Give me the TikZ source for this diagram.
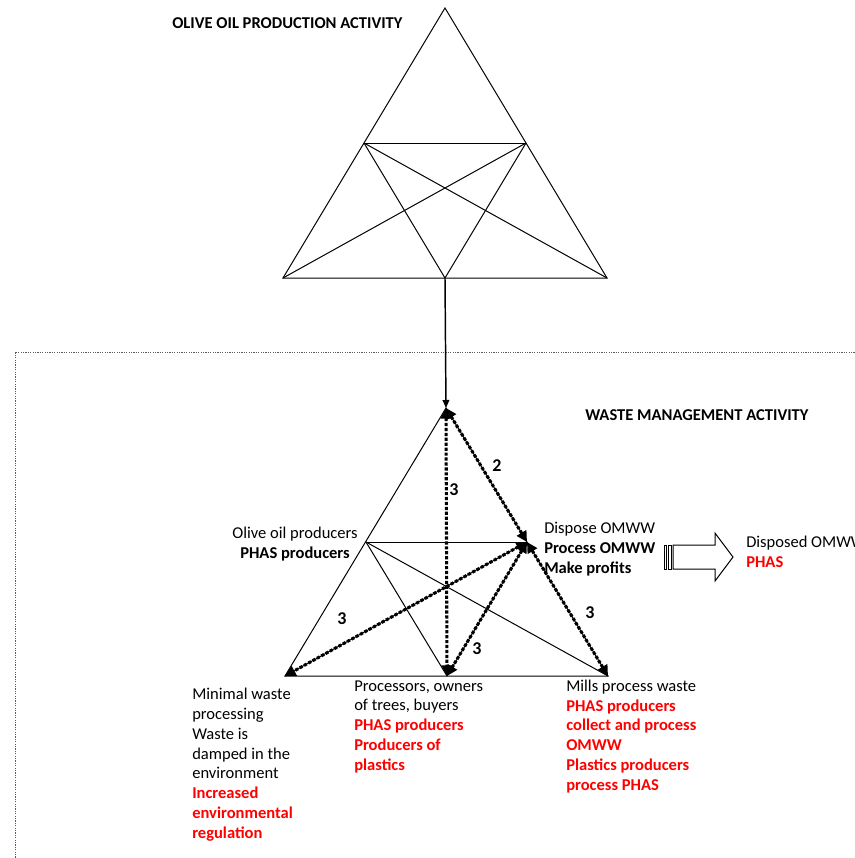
\documentclass[tikz,border=0pt]{standalone}
\usepackage{fontspec}
\setmainfont{Carlito}
\usetikzlibrary{arrows.meta}
\definecolor{accent}{RGB}{255,0,0}
\definecolor{framegray}{RGB}{90,90,90}
\newcommand{\hl}[1]{\textcolor{accent}{\textbf{#1}}}
\begin{document}
\begin{tikzpicture}[x=0.75pt,y=-0.75pt,
  edge/.style={line width=0.75pt, line join=miter},
  link/.style={line width=1.1pt, -{Triangle[length=6pt,width=5pt]}},
  flow/.style={line width=2.3pt, dash pattern=on 2.4pt off 1.3pt,
    {Triangle[length=8pt,width=8pt]}-{Triangle[length=8pt,width=8pt]}},
  frame/.style={line width=0.6pt, framegray, dash pattern=on 0.9pt off 0.9pt},
  txt/.style={font=\fontsize{12.4}{14.8}\selectfont, inner sep=0pt, align=left},
  head/.style={txt, font=\fontsize{12.4}{14.8}\selectfont\bfseries},
  num/.style={inner sep=0pt, font=\fontsize{13.5}{15}\selectfont\bfseries},
  hollow/.style={line width=0.75pt, fill=white}
]
\useasboundingbox (0,0) rectangle (855,858);
\clip (0,0) rectangle (855,858);

% ---------- upper triangle: olive oil production ----------
\coordinate (a1) at (445,8);
\coordinate (l1) at (283,278);
\coordinate (r1) at (607,278);
\coordinate (m1) at (445,278);
\coordinate (ml1) at (364,143);
\coordinate (mr1) at (526,143);
\draw[edge] (a1) -- (l1) -- (r1) -- cycle;
\draw[edge] (ml1) -- (mr1);
\draw[edge] (ml1) -- (r1);
\draw[edge] (ml1) -- (m1);
\draw[edge] (mr1) -- (l1);
\draw[edge] (mr1) -- (m1);
\node[head, anchor=base west] (title1) at (172,28) {OLIVE OIL PRODUCTION ACTIVITY};

% ---------- dotted frame of the waste management area ----------
\coordinate (f1) at (15,860);
\coordinate (f2) at (15,352);
\coordinate (f3) at (858,352);
\draw[frame] (f1) -- (f2) -- (f3);

% ---------- lower triangle: waste management ----------
\coordinate (a2) at (446,408);
\coordinate (l2) at (285,676);
\coordinate (r2) at (608,676);
\coordinate (m2) at (447,676);
\coordinate (ml2) at (366,542);
\coordinate (mr2) at (527,542);
\draw[edge] (a2) -- (l2) -- (r2) -- cycle;
\draw[edge] (ml2) -- (mr2);
\draw[edge] (ml2) -- (r2);
\draw[edge] (ml2) -- (m2);
\draw[edge] (mr2) -- (l2);
\draw[edge] (mr2) -- (m2);

\draw[link] (m1) -- (a2);

\draw[flow] (a2) -- (mr2);
\draw[flow] (a2) -- (m2);
\draw[flow] (mr2) -- (l2);
\draw[flow] (mr2) -- (m2);
\draw[flow] (mr2) -- (r2);

\node[num] (n2) at (497,466) {2};
\node[num] (n3a) at (454,490) {3};
\node[num] (n3b) at (342,619) {3};
\node[num] (n3c) at (590,613) {3};
\node[num] (n3d) at (477,649) {3};

\node[head, anchor=base west] (title2) at (585,420) {WASTE MANAGEMENT ACTIVITY};

% multi-line labels are anchored on the baseline of their last line
\node[txt, align=center, anchor=base] (topleft) at (295,558)
  {Olive oil producers\\\textbf{PHAS producers}};
\node[txt, anchor=base west] (topright) at (544,573)
  {Dispose OMWW\\\textbf{Process OMWW}\\\textbf{Make profits}};

\node[txt, anchor=base west] (botleft) at (192,838)
  {Minimal waste\\processing\\Waste is\\damped in the\\environment\\
   \hl{Increased}\\\hl{environmental}\\\hl{regulation}};
\node[txt, anchor=base west] (botmid) at (354,770)
  {Processors, owners\\of trees, buyers\\\hl{PHAS producers}\\
   \hl{Producers of}\\\hl{plastics}};
\node[txt, anchor=base west] (botright) at (566,790)
  {Mills process waste\\\hl{PHAS producers}\\\hl{collect and process}\\
   \hl{OMWW}\\\hl{Plastics producers}\\\hl{process PHAS}};

% ---------- striped block arrow towards the disposal result ----------
\draw[hollow] (664,545) rectangle (666,569);
\draw[hollow] (668,545) rectangle (671,569);
\draw[hollow] (673,545) -- (715,545) -- (715,533) -- (733,557)
  -- (715,581) -- (715,569) -- (673,569) -- cycle;
\coordinate (arrowtip) at (733,557);

\node[txt, anchor=base west] (result) at (746,567)
  {Disposed OMWW\\\hl{PHAS}};
\end{tikzpicture}
\end{document}
